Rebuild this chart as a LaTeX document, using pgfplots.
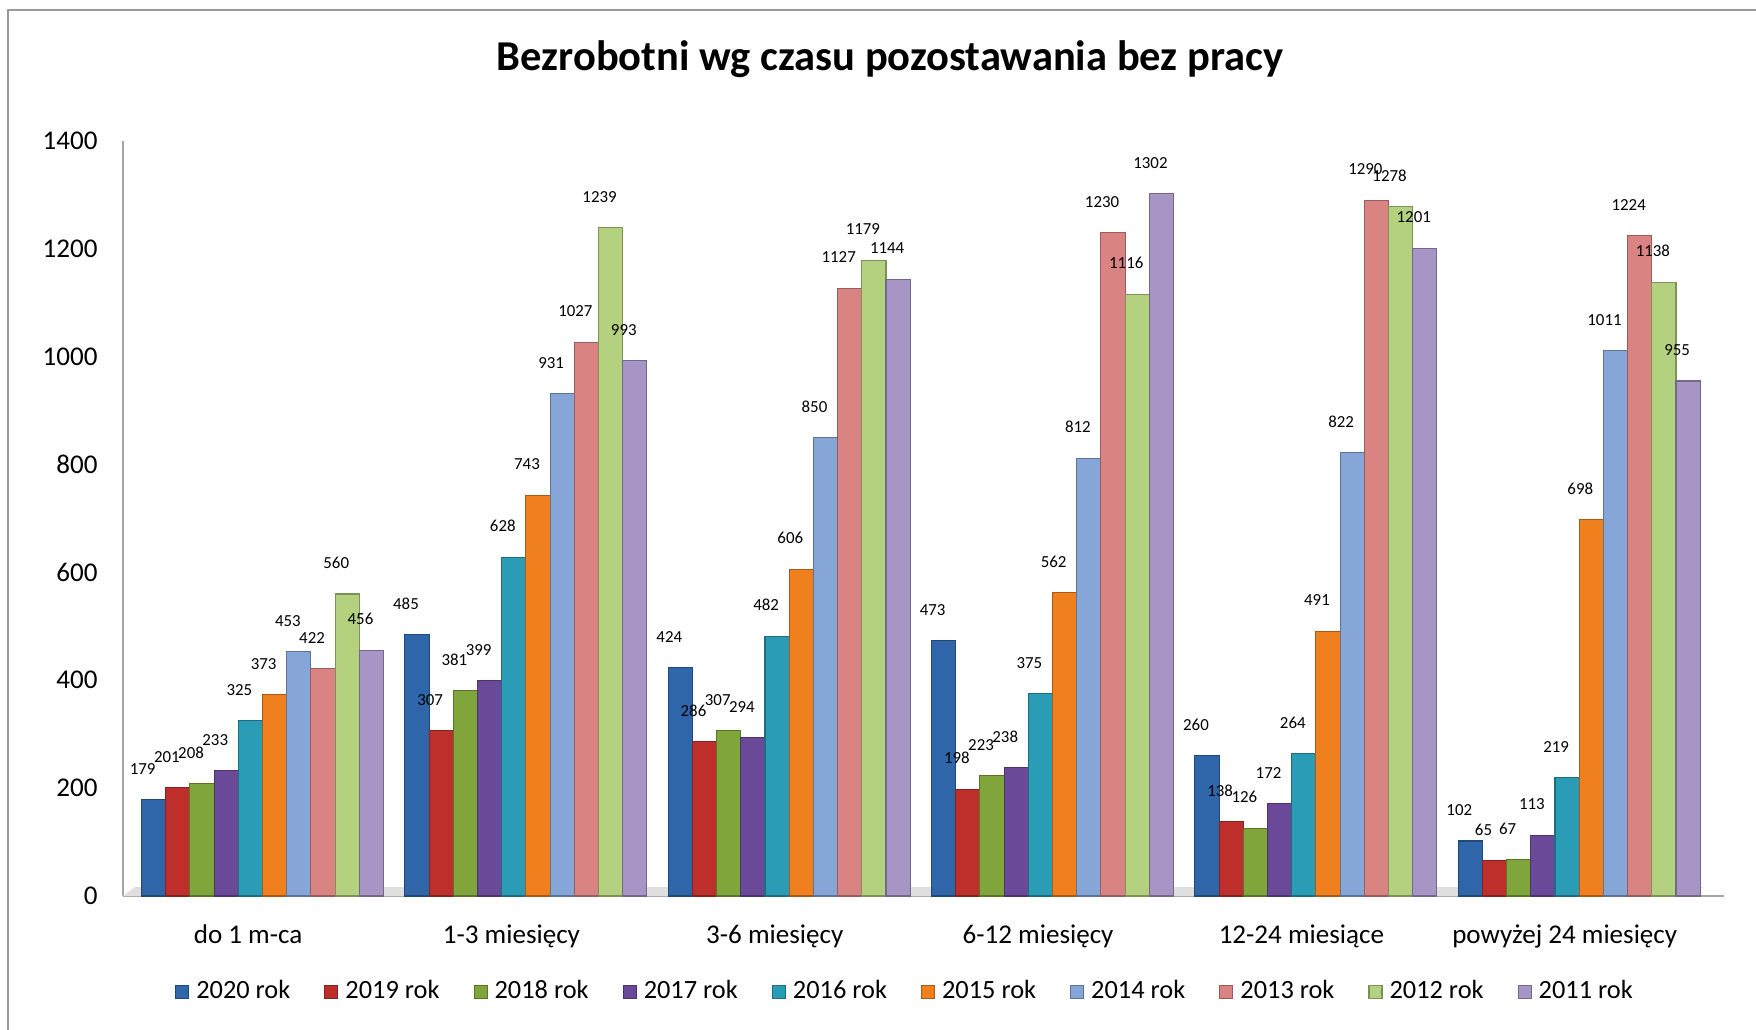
\documentclass[border=0pt]{standalone}
\usepackage{pgfplots}
\pgfplotsset{compat=1.18}
\usepackage{fontspec}
\setmainfont{Carlito}
\definecolor{c20}{HTML}{2F66AA}
\definecolor{c19}{HTML}{BE2F2C}
\definecolor{c18}{HTML}{7FA53B}
\definecolor{c17}{HTML}{6A4A98}
\definecolor{c16}{HTML}{2B9CB5}
\definecolor{c15}{HTML}{F07F1E}
\definecolor{c14}{HTML}{86A6D8}
\definecolor{c13}{HTML}{D98383}
\definecolor{c12}{HTML}{B3D17F}
\definecolor{c11}{HTML}{A695C5}
\pgfplotsset{bar3d/.style={fill=#1, draw=#1!70!black, line width=0.3pt}}
\begin{document}
\begin{tikzpicture}
\useasboundingbox (0,0) rectangle (175.6mm,102.9mm);
\draw[gray!80, line width=0.5pt] (0.8mm,-5mm) -- (0.8mm,101.9mm) -- (180mm,101.9mm);
\node[font=\fontsize{12.1}{15}\selectfont\bfseries] at (89mm,97.0mm) {Bezrobotni wg czasu pozostawania bez pracy};
\begin{axis}[
  at={(12.3mm,13.3mm)}, anchor=south west,
  scale only axis, width=160.1mm, height=75.5mm,
  ybar=0pt, bar width=2.42mm,
  ymin=0, ymax=1400, xmin=-0.53, xmax=5.55,
  ytick={0,200,...,1400},
  xtick={-0.055,0.945,1.945,2.945,3.945,4.945},
  xticklabels={do 1 m-ca,1-3 miesięcy,3-6 miesięcy,6-12 miesięcy,12-24 miesiące,powyżej 24 miesięcy},
  /pgf/number format/assume math mode=true,
  /pgf/number format/1000 sep={},
  ticklabel style={font=\fontsize{7.7}{9}\selectfont},
  yticklabel style={xshift=-1.3mm},
  xticklabel style={yshift=-1.6mm},
  major tick length=0pt,
  axis x line*=bottom, axis y line*=left,
  axis line style={gray!70, line width=0.8pt},
  nodes near coords,
  nodes near coords style={font=\fontsize{4.8}{5}\selectfont, xshift=-1.1mm, yshift=1.3mm, black},
  legend style={draw=none, at={(0.49,-0.127)}, anchor=center, font=\fontsize{7.5}{9}\selectfont,
    legend columns=10, /tikz/every even column/.append style={column sep=2.7mm}},
  legend image code/.code={\fill[#1] (0mm,-0.65mm) rectangle (1.3mm,0.65mm);},
  legend cell align=left,
  clip=false,
]
\fill[gray!25] (rel axis cs:0,0) -- ([xshift=1.2mm,yshift=0.9mm]rel axis cs:0,0) -- ([xshift=2.7mm,yshift=0.9mm]rel axis cs:0.97,0) -- ([xshift=1.5mm]rel axis cs:0.97,0) -- cycle;
\addplot[bar3d=c20] coordinates {(0,179) (1,485) (2,424) (3,473) (4,260) (5,102)};
\addplot[bar3d=c19] coordinates {(0,201) (1,307) (2,286) (3,198) (4,138) (5,65)};
\addplot[bar3d=c18] coordinates {(0,208) (1,381) (2,307) (3,223) (4,126) (5,67)};
\addplot[bar3d=c17] coordinates {(0,233) (1,399) (2,294) (3,238) (4,172) (5,113)};
\addplot[bar3d=c16] coordinates {(0,325) (1,628) (2,482) (3,375) (4,264) (5,219)};
\addplot[bar3d=c15] coordinates {(0,373) (1,743) (2,606) (3,562) (4,491) (5,698)};
\addplot[bar3d=c14] coordinates {(0,453) (1,931) (2,850) (3,812) (4,822) (5,1011)};
\addplot[bar3d=c13] coordinates {(0,422) (1,1027) (2,1127) (3,1230) (4,1290) (5,1224)};
\addplot[bar3d=c12] coordinates {(0,560) (1,1239) (2,1179) (3,1116) (4,1278) (5,1138)};
\addplot[bar3d=c11] coordinates {(0,456) (1,993) (2,1144) (3,1302) (4,1201) (5,955)};
\legend{2020 rok,2019 rok,2018 rok,2017 rok,2016 rok,2015 rok,2014 rok,2013 rok,2012 rok,2011 rok}
\end{axis}
\end{tikzpicture}
\end{document}
